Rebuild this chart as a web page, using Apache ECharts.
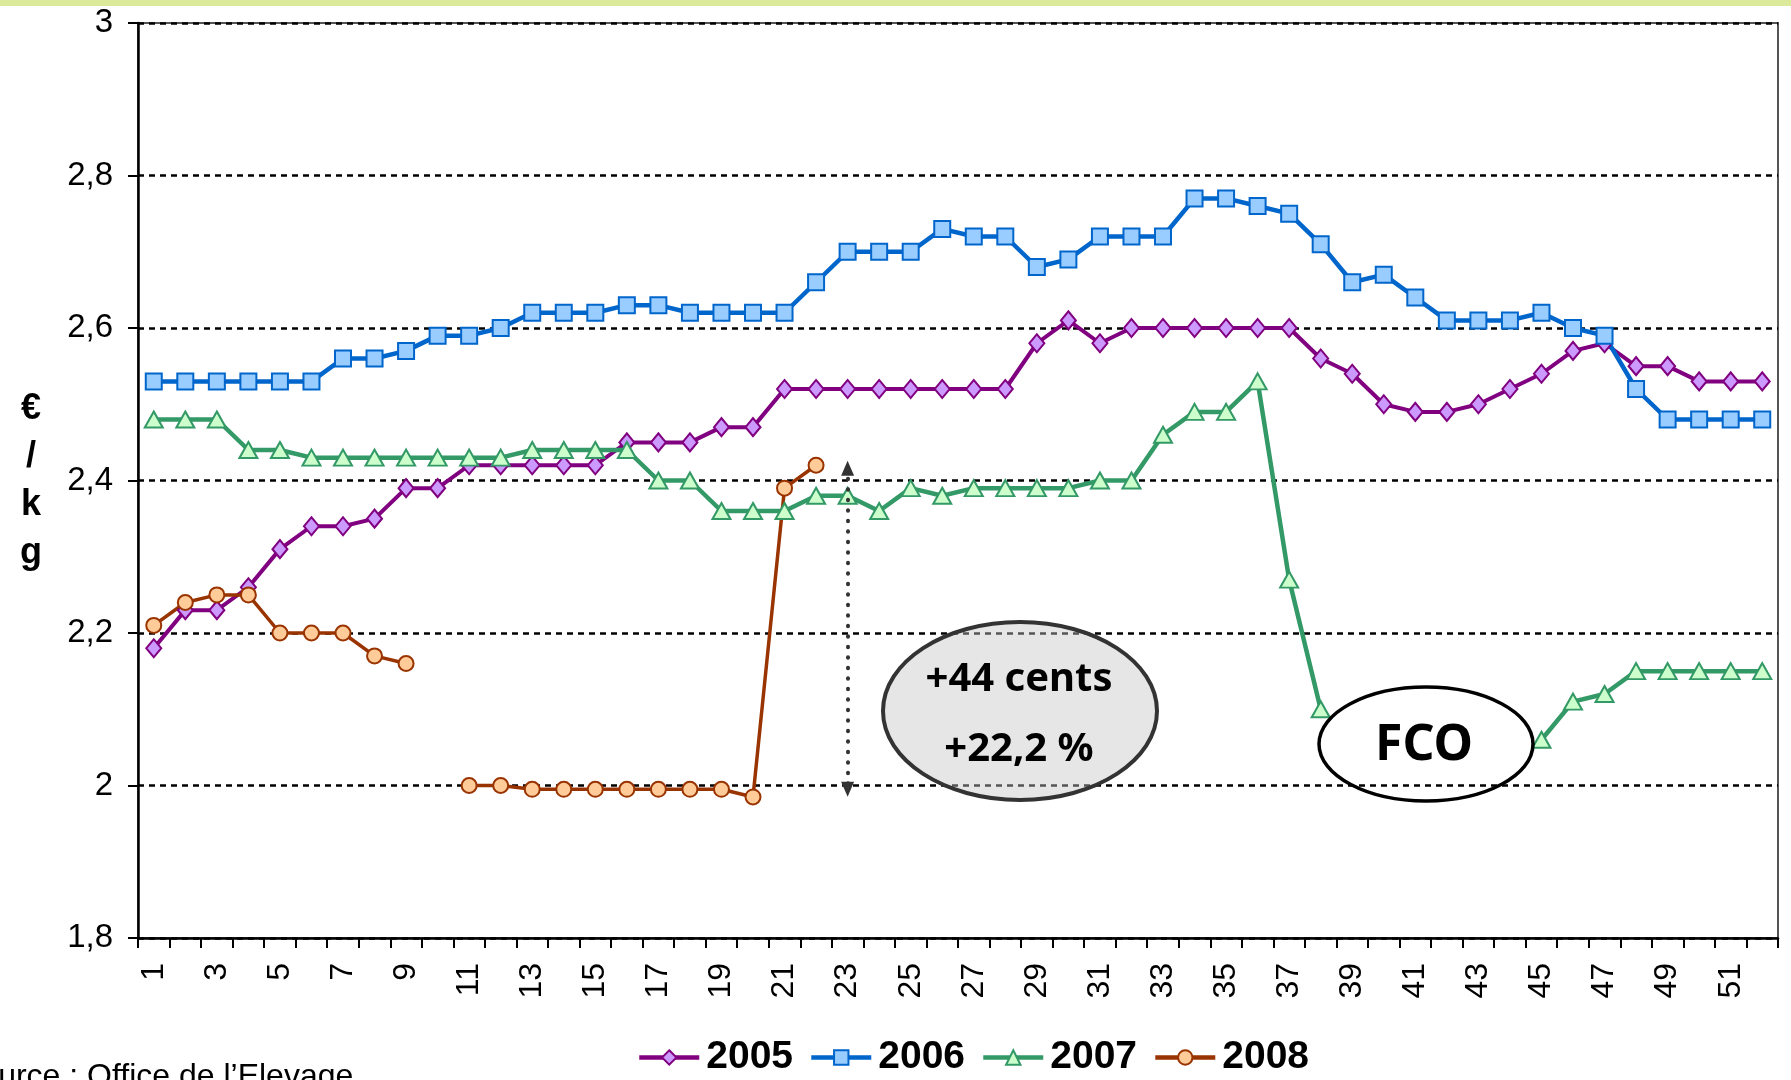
<!DOCTYPE html>
<html>
<head>
<meta charset="utf-8">
<script src="https://cdn.jsdelivr.net/npm/echarts@6/dist/echarts.min.js"></script>
<style>
html,body{margin:0;padding:0;background:#fff;}
#chart{width:1791px;height:1080px;}
</style>
</head>
<body>
<div id="chart"></div>
<script>
// ---- data ----
const weeks = Array.from({length: 52}, (_, i) => String(i + 1));
const yTicks = [1.8, 2.0, 2.2, 2.4, 2.6, 2.8, 3.0];
const seriesNames = ['2005', '2006', '2007', '2008'];
const v2005 = [2.18,2.23,2.23,2.26,2.31,2.34,2.34,2.35,2.39,2.39,
  2.42,2.42,2.42,2.42,2.42,2.45,2.45,2.45,2.47,2.47,
  2.52,2.52,2.52,2.52,2.52,2.52,2.52,2.52,2.58,2.61,
  2.58,2.60,2.60,2.60,2.60,2.60,2.60,2.56,2.54,2.50,
  2.49,2.49,2.50,2.52,2.54,2.57,2.58,2.55,2.55,2.53,2.53,2.53];
const v2006 = [2.53,2.53,2.53,2.53,2.53,2.53,2.56,2.56,2.57,2.59,
  2.59,2.60,2.62,2.62,2.62,2.63,2.63,2.62,2.62,2.62,
  2.62,2.66,2.70,2.70,2.70,2.73,2.72,2.72,2.68,2.69,
  2.72,2.72,2.72,2.77,2.77,2.76,2.75,2.71,2.66,2.67,
  2.64,2.61,2.61,2.61,2.62,2.60,2.59,2.52,2.48,2.48,2.48,2.48];
const v2007 = [2.48,2.48,2.48,2.44,2.44,2.43,2.43,2.43,2.43,2.43,
  2.43,2.43,2.44,2.44,2.44,2.44,2.40,2.40,2.36,2.36,
  2.36,2.38,2.38,2.36,2.39,2.38,2.39,2.39,2.39,2.39,
  2.40,2.40,2.46,2.49,2.49,2.53,2.27,2.10,null,null,
  null,null,null,null,2.06,2.11,2.12,2.15,2.15,2.15,2.15,2.15];
const v2008 = [2.21,2.24,2.25,2.25,2.20,2.20,2.20,2.17,2.16,null,
  2.00,2.00,1.995,1.995,1.995,1.995,1.995,1.995,1.995,1.985,
  2.39,2.42,null,null,null,null,null,null,null,null,
  null,null,null,null,null,null,null,null,null,null,
  null,null,null,null,null,null,null,null,null,null,null,null];
const arrowFrom = 2.416, arrowTo = 1.995, arrowWeek = '23';
const bubbleLines = ['+44 cents', '+22,2 %'];
const fcoLabel = 'FCO';
const sourceText = 'Source : Office de l\u2019Elevage';
const yName = '\u20ac\n/\nk\ng';

// ---- styles ----
const FONT = "'Liberation Sans', Arial, sans-serif";
const COMIC = "'Comic Sans MS', 'Noto Sans', sans-serif";
const styles = {
  '2005': {line: '#800080', fill: '#cc99ff', symbol: 'diamond', size: [15, 18], width: 4},
  '2006': {line: '#0066cc', fill: '#99ccff', symbol: 'rect', size: [16, 16], width: 4.5},
  '2007': {line: '#339966', fill: '#ccffcc', symbol: 'triangle', size: [18, 16], width: 4.5},
  '2008': {line: '#993300', fill: '#ffcc99', symbol: 'circle', size: [15, 15], width: 3.5}
};
const values = {'2005': v2005, '2006': v2006, '2007': v2007, '2008': v2008};

const series = seriesNames.map(name => {
  const s = styles[name];
  const obj = {
    name: name,
    type: 'line',
    data: values[name],
    connectNulls: false,
    symbol: s.symbol,
    symbolSize: s.size,
    showAllSymbol: true,
    lineStyle: {color: s.line, width: s.width},
    itemStyle: {color: s.fill, borderColor: s.line, borderWidth: 2},
    emphasis: {disabled: true}
  };
  if (name === '2008') {
    obj.markLine = {
      silent: true,
      symbol: ['triangle', 'triangle'],
      symbolSize: [13, 15],
      label: {show: false},
      lineStyle: {color: '#333', width: 4, type: [0.5, 10], cap: 'round'},
      data: [[{coord: [arrowWeek, arrowFrom]}, {coord: [arrowWeek, arrowTo]}]]
    };
  }
  return obj;
});

const chart = echarts.init(document.getElementById('chart'));
chart.setOption({
  animation: false,
  backgroundColor: '#fff',
  grid: {left: 138, right: 13, top: 23, bottom: 142, show: true, borderColor: '#555', borderWidth: 2, containLabel: false},
  legend: {
    data: seriesNames,
    left: 632, top: 1033,
    itemWidth: 60, itemHeight: 18, itemGap: 16,
    lineStyle: {width: 4.5},
    textStyle: {fontSize: 39, fontWeight: 'bold', color: '#000', fontFamily: FONT, padding: [0, 0, 0, 2]}
  },
  xAxis: {
    type: 'category',
    data: weeks,
    boundaryGap: true,
    axisLine: {lineStyle: {color: '#000', width: 2.5}},
    axisTick: {show: true, interval: 0, length: 10, lineStyle: {color: '#000', width: 2}},
    axisLabel: {interval: 1, rotate: 90, margin: 25, fontSize: 32, color: '#000', fontFamily: FONT},
    splitLine: {show: false}
  },
  yAxis: {
    type: 'value',
    min: yTicks[0], max: yTicks[yTicks.length - 1], interval: 0.2,
    axisLine: {show: true, lineStyle: {color: '#000', width: 2.5}},
    axisTick: {show: true, length: 10, lineStyle: {color: '#000', width: 2}},
    axisLabel: {margin: 25, fontSize: 33, color: '#000', fontFamily: FONT,
      formatter: v => String(+v.toFixed(1)).replace('.', ',')},
    splitLine: {show: true, lineStyle: {color: '#000', width: 2.5, type: [6, 5]}}
  },
  series: series,
  graphic: [
    {type: 'rect', z: 100, shape: {x: 0, y: 0, width: 1791, height: 6}, style: {fill: '#dbe99b'}},
    {type: 'text', z: 100, x: 31, y: 481,
      style: {text: yName, fill: '#000', fontSize: 36, fontWeight: 'bold', fontFamily: FONT, lineHeight: 48, align: 'center', verticalAlign: 'middle'}},
    {type: 'text', z: 100, x: -41, y: 1077,
      style: {text: sourceText, fill: '#000', fontSize: 32, fontFamily: FONT, align: 'left', verticalAlign: 'middle'}},
    {type: 'ellipse', z: 100, shape: {cx: 1020, cy: 711, rx: 137, ry: 89},
      style: {fill: 'rgba(197,197,197,0.43)', stroke: '#333', lineWidth: 4}},
    {type: 'text', z: 101, x: 1019, y: 680,
      style: {text: bubbleLines[0], fill: '#000', fontSize: 40, fontWeight: 'bold', fontFamily: COMIC, align: 'center', verticalAlign: 'middle'}},
    {type: 'text', z: 101, x: 1019, y: 750,
      style: {text: bubbleLines[1], fill: '#000', fontSize: 40, fontWeight: 'bold', fontFamily: COMIC, align: 'center', verticalAlign: 'middle'}},
    {type: 'ellipse', z: 100, shape: {cx: 1426, cy: 744, rx: 107, ry: 57},
      style: {fill: 'rgba(255,255,255,0)', stroke: '#000', lineWidth: 3.5}},
    {type: 'text', z: 101, x: 1424, y: 746,
      style: {text: fcoLabel, fill: '#000', fontSize: 50, fontWeight: 'bold', fontFamily: COMIC, align: 'center', verticalAlign: 'middle'}}
  ]
});
</script>
</body>
</html>
